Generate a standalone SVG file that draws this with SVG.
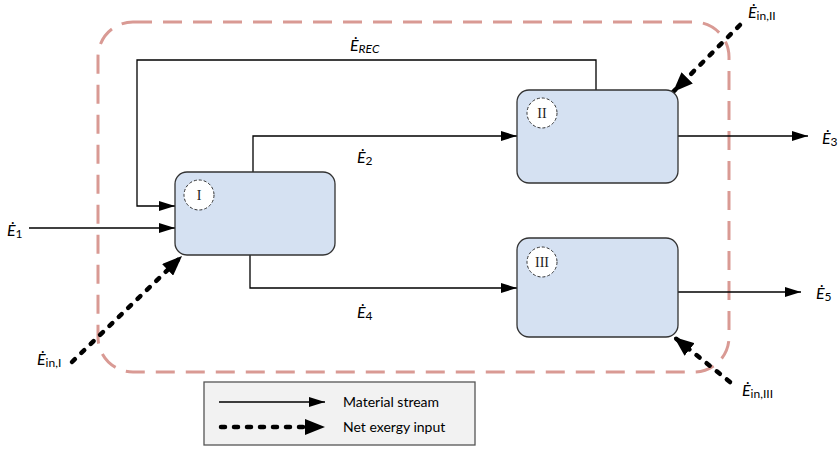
<svg xmlns="http://www.w3.org/2000/svg" width="840" height="450" viewBox="0 0 840 450">
<style>
.box{fill:#d5e1f2;stroke:#333;stroke-width:1.3}
.circ{fill:#fff;stroke:#333;stroke-width:1;stroke-dasharray:3 2}
.rn{font-family:"Liberation Serif",serif;font-size:14px;fill:#222;text-anchor:middle}
.flow{fill:none;stroke:#000;stroke-width:1.3}
.ex{fill:none;stroke:#000;stroke-width:4.5;stroke-linecap:round;stroke-dasharray:4 9}
.lbl{font-family:Lato,"Open Sans",sans-serif;font-size:16px;fill:#000}
.e{font-style:italic}
.sub{font-size:12px}
.leg{font-family:Lato,"Open Sans",sans-serif;font-size:14px;fill:#000}
</style>
<defs>
<marker id="arr" markerUnits="userSpaceOnUse" markerWidth="16" markerHeight="10" refX="16" refY="5" orient="auto" viewBox="0 0 16 10"><path d="M0,0 L16,5 L0,10 z" fill="#000"/></marker>
<marker id="arrB" markerUnits="userSpaceOnUse" markerWidth="20" markerHeight="16" refX="20" refY="8" orient="auto" viewBox="0 0 20 16"><path d="M0,0 L20,8 L0,16 z" fill="#000"/></marker>
</defs>
<rect id="boundary" x="98" y="22" width="631" height="350" rx="35" ry="35" fill="none" stroke="#d99a94" stroke-width="3" stroke-dasharray="19 11"/>
<g id="connectors">
<path class="flow" d="M596,90 V60 H137 V206 H175" marker-end="url(#arr)"/>
<path class="flow" d="M29,228 H175" marker-end="url(#arr)"/>
<path class="flow" d="M253,172 V136 H517" marker-end="url(#arr)"/>
<path class="flow" d="M250,255 V288 H517" marker-end="url(#arr)"/>
<path class="flow" d="M678,136 H808" marker-end="url(#arr)"/>
<path class="flow" d="M678,292 H801" marker-end="url(#arr)"/>
<path class="ex" d="M72,362 L182,256" marker-end="url(#arrB)"/>
<path class="ex" d="M740,25 L673,92" marker-end="url(#arrB)"/>
<path class="ex" d="M730,382 L674,337" marker-end="url(#arrB)"/>
</g>
<g id="node-I"><rect class="box" x="175" y="172" width="160" height="83" rx="12"/><circle class="circ" cx="199" cy="195" r="15"/><text class="rn" x="199" y="200">I</text></g>
<g id="node-II"><rect class="box" x="517" y="90" width="161" height="93" rx="12"/><circle class="circ" cx="542" cy="113" r="15"/><text class="rn" x="542" y="118">II</text></g>
<g id="node-III"><rect class="box" x="517" y="238" width="161" height="99" rx="12"/><circle class="circ" cx="542" cy="262" r="15"/><text class="rn" x="542" y="267">III</text></g>
<g id="labels">
<text class="lbl" x="350" y="51"><tspan class="e">Ė</tspan><tspan class="e sub" dy="2">REC</tspan></text>
<text class="lbl" x="357" y="163"><tspan class="e">Ė</tspan><tspan class="sub" dy="2">2</tspan></text>
<text class="lbl" x="357" y="318"><tspan class="e">Ė</tspan><tspan class="sub" dy="2">4</tspan></text>
<text class="lbl" x="7" y="236"><tspan class="e">Ė</tspan><tspan class="sub" dy="2">1</tspan></text>
<text class="lbl" x="822" y="144"><tspan class="e">Ė</tspan><tspan class="sub" dy="2">3</tspan></text>
<text class="lbl" x="816" y="299"><tspan class="e">Ė</tspan><tspan class="sub" dy="2">5</tspan></text>
<text class="lbl" x="37" y="365"><tspan class="e">Ė</tspan><tspan class="sub" dy="2">in,I</tspan></text>
<text class="lbl" x="748" y="18"><tspan class="e">Ė</tspan><tspan class="sub" dy="2">in,II</tspan></text>
<text class="lbl" x="742" y="396"><tspan class="e">Ė</tspan><tspan class="sub" dy="2">in,III</tspan></text>
</g>
<g id="legend">
<rect x="204" y="382" width="271" height="63" fill="#f2f2f2" stroke="#555" stroke-width="1.3"/>
<path class="flow" d="M219,402 H325" marker-end="url(#arr)"/>
<path class="ex" d="M221,427 H325" marker-end="url(#arrB)"/>
<text class="leg" x="343" y="407">Material stream</text>
<text class="leg" x="343" y="432">Net exergy input</text>
</g>
</svg>
